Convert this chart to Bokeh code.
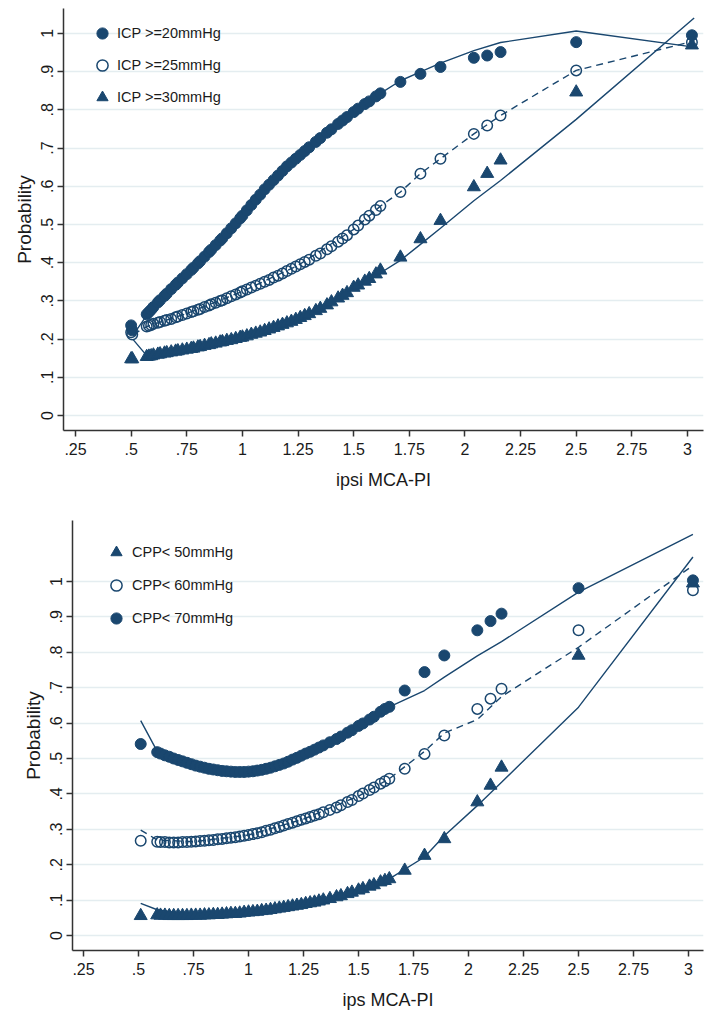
from bokeh.plotting import figure
from bokeh.layouts import column, row
from bokeh.models import Range1d, FixedTicker, Legend, LegendItem, Spacer
from bokeh.embed import file_html
from bokeh.resources import INLINE

# ---------------- data: top panel (ICP) ----------------
x_top = [0.50, 0.505, 0.57, 0.58, 0.59, 0.60, 0.62, 0.63, 0.65, 0.66, 0.68, 0.70, 0.71, 0.73,
         0.75, 0.77, 0.78, 0.80, 0.81, 0.83, 0.85, 0.86, 0.88, 0.90, 0.91, 0.93, 0.95, 0.97,
         0.99, 1.00, 1.02, 1.04, 1.06, 1.08, 1.10, 1.12, 1.14, 1.16, 1.18, 1.20, 1.22, 1.24,
         1.26, 1.28, 1.30, 1.33, 1.35, 1.38, 1.40, 1.43, 1.45, 1.47, 1.50, 1.52, 1.55, 1.57,
         1.60, 1.62, 1.71, 1.80, 1.89, 2.04, 2.10, 2.16, 2.50, 3.02]
icp20 = [.236, .223, .265, .271, .277, .284, .296, .302, .313, .319, .331, .342, .348, .359,
         .370, .381, .387, .398, .404, .416, .428, .434, .446, .458, .464, .477, .490, .503,
         .516, .523, .537, .551, .565, .578, .592, .604, .616, .628, .640, .652, .662, .672,
         .682, .692, .702, .716, .726, .740, .749, .763, .772, .781, .794, .803, .815, .822,
         .835, .843, .873, .894, .912, .936, .942, .951, .977, .995]
icp25 = [.218, .212, .233, .235, .237, .240, .243, .245, .248, .250, .253, .257, .259, .263,
         .267, .271, .273, .277, .279, .284, .288, .291, .295, .300, .302, .307, .312, .317,
         .322, .325, .330, .335, .340, .345, .350, .355, .361, .366, .372, .378, .384, .390,
         .396, .402, .408, .418, .424, .435, .443, .455, .463, .472, .487, .497, .513, .523,
         .538, .548, .585, .633, .672, .737, .759, .785, .903, .977]
icp30 = [.148, .148, .154, .155, .156, .158, .160, .161, .163, .164, .166, .168, .169, .171,
         .173, .175, .176, .179, .180, .183, .185, .187, .189, .192, .193, .196, .198, .201,
         .204, .205, .208, .212, .215, .218, .222, .226, .230, .234, .238, .242, .246, .251,
         .256, .261, .266, .274, .280, .289, .297, .307, .314, .321, .335, .341, .351, .358,
         .370, .380, .414, .462, .510, .598, .633, .668, .846, .969]
fit_x_top = [0.51, 0.57, 0.75, 1.00, 1.25, 1.50, 1.62, 1.71, 1.80, 1.89, 2.04, 2.16, 2.50, 3.03]
fit_icp20 = [0.212, 0.262, 0.370, 0.523, 0.677, 0.794, 0.843, 0.876, 0.899, 0.922, 0.955, 0.976, 1.006, 0.964]
fit_icp25 = [0.212, 0.233, 0.267, 0.325, 0.393, 0.487, 0.548, 0.585, 0.633, 0.672, 0.737, 0.785, 0.903, 0.980]
fit_icp30 = [0.198, 0.157, 0.172, 0.203, 0.252, 0.333, 0.373, 0.406, 0.448, 0.490, 0.562, 0.615, 0.775, 1.040]

# ---------------- data: bottom panel (CPP) ----------------
x_bot = [0.51, 0.585, 0.60, 0.62, 0.64, 0.66, 0.68, 0.70, 0.72, 0.74, 0.76, 0.78, 0.80, 0.82,
         0.84, 0.86, 0.88, 0.90, 0.92, 0.94, 0.96, 0.98, 1.00, 1.02, 1.04, 1.06, 1.08, 1.10,
         1.12, 1.14, 1.16, 1.18, 1.20, 1.22, 1.24, 1.26, 1.28, 1.30, 1.32, 1.34, 1.37, 1.40,
         1.42, 1.45, 1.47, 1.50, 1.52, 1.55, 1.57, 1.60, 1.62, 1.64, 1.71, 1.80, 1.89, 2.04,
         2.10, 2.15, 2.50, 3.02]
cpp70 = [.541, .518, .514, .509, .505, .500, .496, .492, .488, .484, .480, .477, .474, .471,
         .469, .467, .465, .464, .463, .462, .462, .462, .463, .464, .466, .468, .471, .474,
         .478, .482, .486, .491, .497, .502, .508, .514, .519, .525, .531, .537, .546, .555,
         .562, .573, .580, .592, .599, .610, .618, .632, .640, .646, .692, .744, .791, .862,
         .888, .909, .981, 1.003]
cpp60 = [.268, .265, .264, .264, .263, .263, .263, .264, .264, .265, .266, .267, .268, .269,
         .270, .272, .273, .275, .276, .278, .280, .282, .284, .287, .289, .292, .296, .299,
         .303, .307, .311, .315, .319, .323, .327, .331, .335, .339, .343, .348, .355, .362,
         .368, .377, .383, .394, .401, .411, .418, .429, .436, .443, .471, .513, .565, .640,
         .669, .697, .862, .975]
cpp50 = [.056, .058, .057, .057, .056, .056, .056, .056, .056, .057, .057, .057, .058, .058,
         .059, .059, .060, .061, .062, .062, .063, .065, .066, .067, .068, .070, .071, .073,
         .075, .077, .079, .081, .083, .085, .087, .090, .092, .094, .097, .100, .104, .109,
         .112, .118, .122, .128, .132, .139, .143, .151, .155, .160, .184, .226, .273, .377,
         .424, .475, .791, .995]
fit_x_bot = [0.51, 0.585, 0.75, 1.00, 1.25, 1.50, 1.64, 1.80, 1.89, 2.04, 2.15, 2.50, 3.02]
fit_cpp70 = [0.607, 0.520, 0.482, 0.463, 0.511, 0.592, 0.646, 0.692, 0.730, 0.790, 0.830, 0.970, 1.133]
fit_cpp60 = [0.298, 0.270, 0.265, 0.284, 0.329, 0.394, 0.443, 0.520, 0.572, 0.610, 0.675, 0.814, 1.045]
fit_cpp50 = [0.091, 0.073, 0.057, 0.066, 0.088, 0.128, 0.160, 0.222, 0.282, 0.367, 0.433, 0.645, 1.069]

# ---------------- ticks & labels ----------------
x_ticks = [0.25, 0.5, 0.75, 1.0, 1.25, 1.5, 1.75, 2.0, 2.25, 2.5, 2.75, 3.0]
x_tick_labels = [".25", ".5", ".75", "1", "1.25", "1.5", "1.75", "2", "2.25", "2.5", "2.75", "3"]
y_ticks = [0.0, 0.1, 0.2, 0.3, 0.4, 0.5, 0.6, 0.7, 0.8, 0.9, 1.0]
y_tick_labels = ["0", ".1", ".2", ".3", ".4", ".5", ".6", ".7", ".8", ".9", "1"]
top_labels = ["ICP >=20mmHg", "ICP >=25mmHg", "ICP >=30mmHg"]
bot_labels = ["CPP< 50mmHg", "CPP< 60mmHg", "CPP< 70mmHg"]

NAVY = "#1a476f"
FONT = "Liberation Sans"
TXT = "#1a1a1a"


def base_fig(width, height, xr, yr, border_top, xlabel):
    p = figure(width=width, height=height, output_backend="svg", toolbar_location=None,
               x_range=Range1d(*xr), y_range=Range1d(*yr),
               min_border_left=63, min_border_right=6,
               min_border_top=border_top, min_border_bottom=70)
    p.outline_line_color = None
    p.background_fill_color = "white"
    p.xgrid.visible = False
    p.ygrid.grid_line_color = "#e4edf0"
    p.ygrid.grid_line_width = 1.5
    p.xaxis.ticker = FixedTicker(ticks=x_ticks)
    p.yaxis.ticker = FixedTicker(ticks=y_ticks)
    p.xaxis.major_label_overrides = dict(zip(x_ticks, x_tick_labels))
    p.yaxis.major_label_overrides = dict(zip(y_ticks, y_tick_labels))
    p.yaxis.major_label_orientation = "vertical"
    for ax in (p.xaxis[0], p.yaxis[0]):
        ax.axis_line_color = "#333333"
        ax.axis_line_width = 1.5
        ax.major_tick_line_color = "#333333"
        ax.major_tick_line_width = 1.5
        ax.major_tick_out = 6
        ax.major_tick_in = 0
        ax.minor_tick_line_color = None
        ax.major_label_text_font = FONT
        ax.major_label_text_color = TXT
        ax.major_label_text_font_size = "16px"
        ax.axis_label_text_font = FONT
        ax.axis_label_text_font_style = "normal"
        ax.axis_label_text_color = TXT
    p.xaxis.major_label_standoff = 6
    p.yaxis.major_label_standoff = 4
    p.xaxis.axis_label = xlabel
    p.xaxis.axis_label_text_font_size = "18px"
    p.xaxis.axis_label_standoff = 12
    p.yaxis.axis_label = "Probability"
    p.yaxis.axis_label_text_font_size = "19px"
    p.yaxis.axis_label_standoff = 4
    return p


def add_series(p, xs, ys, kind):
    if kind == "filled":
        return p.scatter(xs, ys, marker="circle", size=11, fill_color=NAVY, line_color=NAVY)
    if kind == "open":
        return p.scatter(xs, ys, marker="circle", size=10.5, fill_color=None,
                         line_color=NAVY, line_width=1.5)
    return p.scatter(xs, ys, marker="triangle", size=13, fill_color=NAVY, line_color=NAVY)


def add_legend(p, items, loc, spacing, standoff):
    leg = Legend(items=items, location=loc, orientation="vertical",
                 glyph_width=28, glyph_height=28, label_height=28, spacing=spacing,
                 label_standoff=standoff, padding=0, margin=0,
                 border_line_color=None, background_fill_alpha=0,
                 label_text_font=FONT, label_text_font_size="14.5px",
                 label_text_color=TXT)
    p.add_layout(leg)


# ---------------- top figure ----------------
p1 = base_fig(709, 500, (0.196, 3.072), (-0.039, 1.065), 8, "ipsi MCA-PI")
p1.line(fit_x_top, fit_icp20, line_color=NAVY, line_width=1.4)
p1.line(fit_x_top, fit_icp25, line_color=NAVY, line_width=1.4, line_dash="7 5")
p1.line(fit_x_top, fit_icp30, line_color=NAVY, line_width=1.4)
r20 = add_series(p1, x_top, icp20, "filled")
r25 = add_series(p1, x_top, icp25, "open")
r30 = add_series(p1, x_top, icp30, "tri")
add_legend(p1, [LegendItem(label=top_labels[0], renderers=[r20]),
                LegendItem(label=top_labels[1], renderers=[r25]),
                LegendItem(label=top_labels[2], renderers=[r30])],
           (25, 319), 4, 1)

# ---------------- bottom figure ----------------
p2 = base_fig(700, 520, (0.2, 3.068), (-0.042, 1.172), 20, "ips MCA-PI")
p2.line(fit_x_bot, fit_cpp70, line_color=NAVY, line_width=1.4)
p2.line(fit_x_bot, fit_cpp60, line_color=NAVY, line_width=1.4, line_dash="7 5")
p2.line(fit_x_bot, fit_cpp50, line_color=NAVY, line_width=1.4)
s50 = add_series(p2, x_bot, cpp50, "tri")
s60 = add_series(p2, x_bot, cpp60, "open")
s70 = add_series(p2, x_bot, cpp70, "filled")
add_legend(p2, [LegendItem(label=bot_labels[0], renderers=[s50]),
                LegendItem(label=bot_labels[1], renderers=[s60]),
                LegendItem(label=bot_labels[2], renderers=[s70])],
           (30, 318), 5, 2)

layout = column(p1, row(Spacer(width=9, height=520), p2, spacing=0), spacing=0)
open("out.html", "w").write(file_html(layout, INLINE))
